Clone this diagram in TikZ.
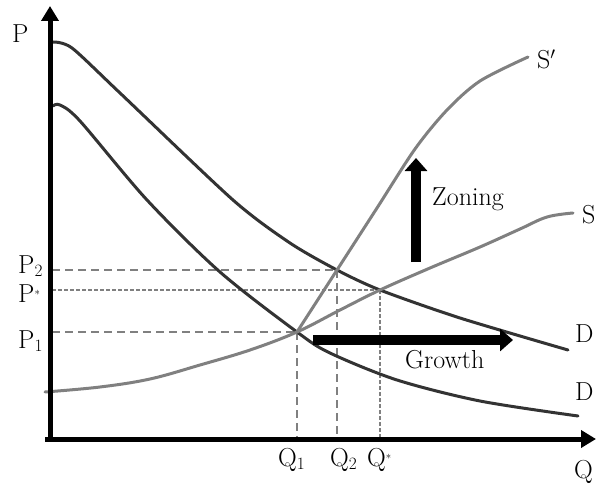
\documentclass[tikz,border=0pt]{standalone}
\usetikzlibrary{arrows.meta}
\begin{document}
\begin{tikzpicture}[x=1pt,y=-1pt,
  axis/.style={line width=5pt,-{Triangle[length=15pt,width=17pt]}},
  dcurve/.style={line width=3pt,color=black!80,line cap=round},
  scurve/.style={line width=3pt,color=black!50,line cap=round},
  guide/.style={line width=2.2pt,color=black!50,dash pattern=on 8pt off 5pt},
  guidefine/.style={line width=2.2pt,color=black!50,dash pattern=on 4pt off 2pt},
  shiftarrow/.style={line width=10pt,-{Triangle[length=13pt,width=22pt]}},
  lbl/.style={inner sep=0pt,font=\fontsize{26}{30}\selectfont},
]
\useasboundingbox (0,0) rectangle (596,489);
% key points
\coordinate (O) at (50,439);
\coordinate (ytop) at (50,6);
\coordinate (xend) at (596,439);
\coordinate (E1) at (297,332);
\coordinate (E2) at (337,270);
\coordinate (Es) at (380,290);
\coordinate (yP2) at (52,270);
\coordinate (yPs) at (52,290);
\coordinate (yP1) at (52,332);
\coordinate (xQ1) at (297,437);
\coordinate (xQ2) at (337,437);
\coordinate (xQs) at (380,437);
% guides
\draw[guide] (yP2) -- (E2);
\draw[guidefine] (yPs) -- (Es);
\draw[guide] (yP1) -- (E1);
\draw[guide] (E1) -- (xQ1);
\draw[guide] (E2) -- (xQ2);
\draw[guidefine] (Es) -- (xQs);
% demand curves
\draw[dcurve] plot[smooth,tension=0.45] coordinates {(53,42) (72,48) (120,93) (233,200) (290,243) (337,270) (380,290) (460,318) (568,350)};
\draw[dcurve] plot[smooth,tension=0.5] coordinates {(53,106) (60,105) (80,121) (147,200) (220,272) (297,332) (330,353) (397,380) (480,401) (578,416)};
% supply curves
\draw[scurve] plot[smooth,tension=0.6] coordinates {(45,392) (100,387) (150,379) (200,365) (250,350) (297,332) (340,310) (380,290) (430,268) (480,247) (520,229) (547,217) (573,213)};
\draw[scurve] plot[smooth,tension=0.5] coordinates {(297,332) (337,270) (377,208) (415,149) (447,110) (480,81) (528,57)};
% axes
\draw[axis] (50,441) -- (ytop);
\draw[axis] (45,439) -- (xend);
% shift arrows
\coordinate (zb) at (416,262);
\coordinate (zt) at (416,158);
\coordinate (gl) at (313,340);
\coordinate (gr) at (513,340);
\draw[shiftarrow] (zb) -- (zt);
\draw[shiftarrow] (gl) -- (gr);
% labels
\node[lbl,anchor=base west] (lP) at (12,43) {P};
\node[lbl,anchor=base west] (lP2) at (18,273) {P$_2$};
\node[lbl,anchor=base west] (lPs) at (18,302) {P\raisebox{4pt}{\fontsize{11}{11}\selectfont *}};
\node[lbl,anchor=base west] (lP1) at (18,348) {P$_1$};
\node[lbl,anchor=base west] (lQ1) at (278,466) {Q$_1$};
\node[lbl,anchor=base west] (lQ2) at (330,466) {Q$_2$};
\node[lbl,anchor=base west] (lQs) at (367,466) {Q\raisebox{4pt}{\fontsize{11}{11}\selectfont *}};
\node[lbl,anchor=north west] (lQ) at (574,460) {Q};
\node[lbl,anchor=base west] (lSp) at (537,69) {S$'$};
\node[lbl,anchor=base west] (lS) at (582,223) {S};
\node[lbl,anchor=base west] (lD1) at (575,342) {D};
\node[lbl,anchor=base west] (lD2) at (575,400) {D};
\node[lbl,anchor=base west] (lZ) at (432,205) {Zoning};
\node[lbl,anchor=base west] (lG) at (405,368) {Growth};
\end{tikzpicture}
\end{document}
